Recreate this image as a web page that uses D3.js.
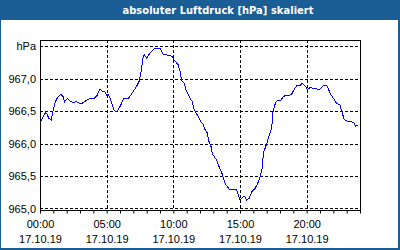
<!DOCTYPE html>
<html lang="de">
<head>
<meta charset="UTF-8">
<title>absoluter Luftdruck</title>
<script src="https://d3js.org/d3.v7.min.js"></script>
<style>
    body { margin: 0; background: #ffffff; }
    svg { display: block; }
    .lbl { font-family: "Liberation Sans", Arial, sans-serif; font-size: 11px; fill: #000; }
    .title { font-family: "DejaVu Sans Condensed", "Liberation Sans", sans-serif; font-size: 11px; font-weight: bold; fill: #fff; }
</style>
</head>
<body>
<div id="chart"></div>
<script>

    var times = ["00:03","00:14","00:24","00:32","00:39","00:51","00:59","01:09","01:21","01:33",
        "01:44","01:51","02:03","02:14","02:29","02:43","03:03","03:21","03:36","03:51",
        "04:03","04:18","04:30","04:40","04:53","05:00","05:07","05:15","05:23","05:33",
        "05:42","05:52","06:03","06:15","06:37","06:45","07:00","07:15","07:26","07:35",
        "07:45","07:49","08:00","08:12","08:23","08:30","08:38","09:00","09:08","09:12",
        "09:23","09:37","09:53","10:03","10:15","10:22","10:30","10:38","10:48","10:57",
        "11:07","11:18","11:27","11:30","11:38","11:52","12:03","12:15","12:23","12:33",
        "12:38","12:50","12:55","13:04","13:15","13:26","13:38","13:45","13:53","14:03",
        "14:15","14:30","14:45","14:52","15:00","15:08","15:19","15:30","15:41","15:53",
        "16:08","16:20","16:30","16:40","16:45","16:53","17:03","17:12","17:23","17:27",
        "17:34","17:42","17:52","18:03","18:12","18:27","18:42","18:53","19:00","19:15",
        "19:30","19:40","19:53","20:03","20:15","20:30","20:52","21:00","21:15","21:30",
        "21:37","21:45","22:00","22:15","22:30","22:38","22:49","23:00","23:20","23:34",
        "23:41","23:50"];
    var pressure = [966.335,966.412,966.474,966.449,966.388,966.362,966.515,966.643,966.720,966.757,
        966.720,966.643,966.695,966.654,966.634,966.643,966.608,966.643,966.680,966.695,
        966.695,966.746,966.843,966.803,966.792,966.742,966.751,966.700,966.623,966.520,
        966.485,966.520,966.588,966.685,966.689,966.726,966.803,966.880,966.957,967.111,
        967.342,967.366,967.315,967.377,967.418,967.443,967.469,967.469,967.418,967.377,
        967.366,967.357,967.342,967.289,967.238,967.212,967.111,966.966,966.931,966.828,
        966.751,966.674,966.638,966.546,966.495,966.418,966.342,966.289,966.212,966.162,
        966.054,965.951,965.849,965.797,965.746,965.643,965.551,965.465,965.388,965.335,
        965.285,965.295,965.285,965.208,965.131,965.157,965.192,965.131,965.157,965.258,
        965.311,965.388,965.489,965.618,965.849,965.926,966.028,966.131,966.234,966.465,
        966.566,966.643,966.669,966.654,966.711,966.746,966.735,966.762,966.812,966.889,
        966.889,966.926,966.885,966.834,966.858,966.849,966.834,966.834,966.885,966.900,
        966.849,966.772,966.695,966.618,966.592,966.489,966.372,966.346,966.335,966.311,
        966.269,966.285];

    var yTicks = [965.0, 965.5, 966.0, 966.5, 967.0, 967.5];
    var yTickLabels = ["965,0", "965,5", "966,0", "966,5", "967,0", "hPa"];
    var xTickHours = [0, 5, 10, 15, 20];
    var dateLabel = "17.10.19";
    var title = "absoluter Luftdruck [hPa] skaliert";

    var width = 400, height = 250;
    var plot = {left: 40, top: 40, right: 360, bottom: 210};
    var frameColor = "#1b5e95";

    var parseTime = d3.timeParse("%d.%m.%y %H:%M");
    var data = times.map(function (t, i) {
        return {date: parseTime(dateLabel + " " + t), value: pressure[i]};
    });
    var day = parseTime(dateLabel + " 00:00");

    var svg = d3.select("#chart").append("svg")
        .attr("width", width)
        .attr("height", height);

    // Rahmen + Titelleiste
    svg.append("rect")
        .attr("x", 0).attr("y", 0)
        .attr("width", width).attr("height", height)
        .attr("fill", frameColor);
    svg.append("rect")
        .attr("x", 1).attr("y", 20)
        .attr("width", width - 3).attr("height", height - 22)
        .attr("fill", "#ffffff");
    svg.append("text")
        .attr("class", "title")
        .attr("x", 218).attr("y", 14)
        .attr("text-anchor", "middle")
        .attr("textLength", 191)
        .text(title);

    var x = d3.scaleTime()
        .domain([day, d3.timeHour.offset(day, 24)])
        .range([plot.left, plot.right]);

    var y = d3.scaleLinear()
        .domain([965 - 1.5 / 65, 967.5 + 6 / 65])
        .range([plot.bottom, plot.top]);

    // Gitter
    svg.append("g").selectAll("line")
        .data(yTicks)
        .enter().append("line")
        .attr("x1", plot.left).attr("x2", plot.right)
        .attr("y1", function (d) { return Math.round(y(d)) + 0.5; })
        .attr("y2", function (d) { return Math.round(y(d)) + 0.5; })
        .attr("stroke", "#000")
        .attr("stroke-dasharray", "3,2");

    svg.append("g").selectAll("line")
        .data(xTickHours.slice(1))
        .enter().append("line")
        .attr("x1", function (d) { return Math.round(x(d3.timeHour.offset(day, d))) + 0.5; })
        .attr("x2", function (d) { return Math.round(x(d3.timeHour.offset(day, d))) + 0.5; })
        .attr("y1", plot.top).attr("y2", plot.bottom)
        .attr("stroke", "#000")
        .attr("stroke-dasharray", "3,2");

    // Achse unten (Stundenstriche)
    var xAxis = d3.axisBottom(x)
        .ticks(d3.timeHour.every(1))
        .tickSize(3)
        .tickFormat("");
    var gx = svg.append("g")
        .attr("transform", "translate(0," + (plot.bottom + 0.5) + ")")
        .call(xAxis);
    gx.select(".domain").remove();
    gx.selectAll("line").attr("stroke", "#000");

    // Kurve
    var line = d3.line()
        .x(function (d) { return x(d.date); })
        .y(function (d) { return y(d.value); });

    svg.append("path")
        .datum(data)
        .attr("d", line)
        .attr("fill", "none")
        .attr("stroke", "#0000ff")
        .attr("stroke-width", 1)
        .attr("shape-rendering", "crispEdges");

    // Plotrahmen
    svg.append("rect")
        .attr("x", plot.left + 0.5).attr("y", plot.top + 0.5)
        .attr("width", plot.right - plot.left)
        .attr("height", plot.bottom - plot.top)
        .attr("fill", "none")
        .attr("stroke", "#000");

    // Beschriftung y
    svg.append("g").selectAll("text")
        .data(yTicks)
        .enter().append("text")
        .attr("class", "lbl")
        .attr("x", 36)
        .attr("y", function (d) { return y(d) + 4; })
        .attr("text-anchor", "end")
        .text(function (d, i) { return yTickLabels[i]; });

    // Beschriftung x
    var xl = svg.append("g").selectAll("text")
        .data(xTickHours)
        .enter().append("text")
        .attr("class", "lbl")
        .attr("text-anchor", "middle")
        .attr("x", function (d) { return x(d3.timeHour.offset(day, d)) + 0.5; })
        .attr("y", 228);
    xl.append("tspan")
        .text(function (d) { return d3.timeFormat("%H:%M")(d3.timeHour.offset(day, d)); });
    xl.append("tspan")
        .attr("x", function (d) { return x(d3.timeHour.offset(day, d)) + 0.5; })
        .attr("dy", 15)
        .text(dateLabel);

</script>
</body>
</html>
